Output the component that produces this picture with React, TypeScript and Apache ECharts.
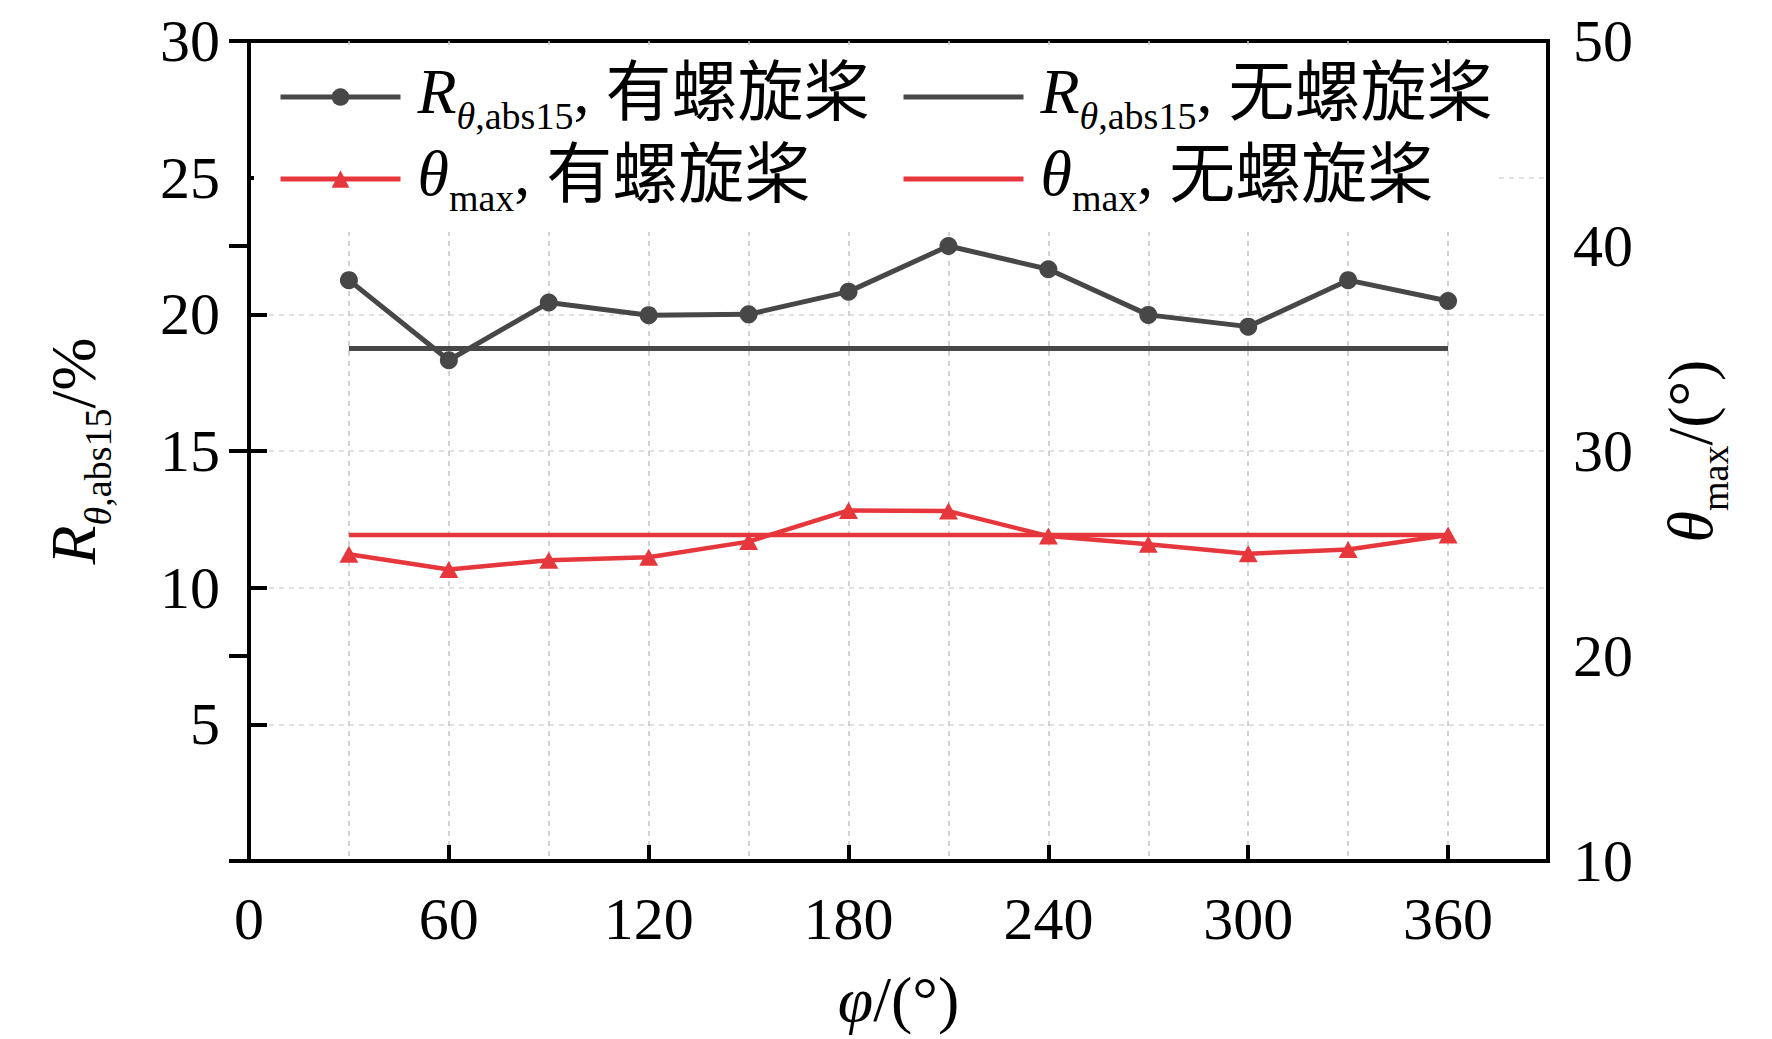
import React, { useEffect, useRef } from 'react';
import * as echarts from 'echarts';

// ---- data ----
const phi = [30, 60, 90, 120, 150, 180, 210, 240, 270, 300, 330, 360];
const rWithProp = [21.25, 18.32, 20.43, 19.97, 20.0, 20.83, 22.5, 21.65, 19.98, 19.55, 21.25, 20.49];
const rNoProp = [18.75, 18.75, 18.75, 18.75, 18.75, 18.75, 18.75, 18.75, 18.75, 18.75, 18.75, 18.75];
const thetaWithProp = [24.96, 24.22, 24.67, 24.82, 25.58, 27.1, 27.07, 25.85, 25.45, 24.99, 25.2, 25.9];
const thetaNoProp = [25.9, 25.9, 25.9, 25.9, 25.9, 25.9, 25.9, 25.9, 25.9, 25.9, 25.9, 25.9];

const seriesNames = ['R_with', 'R_without', 'T_with', 'T_without'];
const legendLabels: Record<string, string> = {
  R_with: '{rl|R}{si|θ}{s|,abs15}{n|, }{cn|有螺旋桨}',
  R_without: '{rl|R}{si|θ}{s|,abs15}{n|, }{cn|无螺旋桨}',
  T_with: '{rl|θ}{s|max}{n|, }{cn|有螺旋桨}',
  T_without: '{rl|θ}{s|max}{n|, }{cn|无螺旋桨}',
};
const xName = '{ri|φ}{n|/(°)}';
const yLeftName = '{ri|R}{si|θ}{s|,abs15}{n|/%}';
const yRightName = '{ri|θ}{s|max}{n|/(°)}';

const FONT = "'Liberation Serif', 'Times New Roman', 'Noto Sans CJK SC', serif";
const GRAY = '#474747';
const RED = '#e6373d';

const rich: any = {
  ri: { fontFamily: FONT, fontSize: 64, fontStyle: 'italic', lineHeight: 76, verticalAlign: 'top', color: '#000' },
  rl: { fontFamily: FONT, fontSize: 64, fontStyle: 'italic', lineHeight: 76, verticalAlign: 'top', color: '#000', padding: [0, 0, 0, 12] },
  si: { fontFamily: FONT, fontSize: 38, fontStyle: 'italic', lineHeight: 40, verticalAlign: 'bottom', color: '#000' },
  s: { fontFamily: FONT, fontSize: 38, lineHeight: 40, verticalAlign: 'bottom', color: '#000' },
  n: { fontFamily: FONT, fontSize: 64, lineHeight: 76, verticalAlign: 'top', color: '#000' },
  cn: { fontFamily: FONT, fontSize: 66, lineHeight: 76, verticalAlign: 'top', color: '#000' },
};

const pairs = (ys: number[]) => phi.map((x, i) => [x, ys[i]]);

const legendBase = {
  orient: 'vertical',
  top: 59,
  padding: 0,
  itemWidth: 120,
  itemHeight: 22,
  itemGap: 6,
  selectedMode: false,
  lineStyle: { width: 5 },
  formatter: (name: string) => legendLabels[name],
  textStyle: { fontFamily: FONT, fontSize: 64, color: '#000', rich },
};

export default function App() {
  const ref = useRef<HTMLDivElement>(null);
  useEffect(() => {
    if (!ref.current) return;
    const chart = echarts.init(ref.current, undefined, { renderer: 'svg' });
    const labelStyle = { fontFamily: FONT, fontSize: 60, color: '#000' };
    const option: any = {
      animation: false,
      backgroundColor: '#fff',
      grid: { left: 249, right: 224, top: 41, bottom: 178, show: true, borderColor: '#000', borderWidth: 4 },
      graphic: {
        elements: [
          { type: 'rect', z: 1, silent: true, shape: { x: 254, y: 45, width: 1243, height: 187 }, style: { fill: '#fff' } },
        ],
      },
      legend: [
        { ...legendBase, left: 278, data: [{ name: seriesNames[0] }, { name: seriesNames[2] }] },
        {
          ...legendBase,
          left: 901,
          data: [
            { name: seriesNames[1], itemStyle: { opacity: 0 } },
            { name: seriesNames[3], itemStyle: { opacity: 0 } },
          ],
        },
      ],
      xAxis: [
        {
          type: 'value', min: 0, max: 390, interval: 30, position: 'bottom',
          axisLine: { show: false }, axisTick: { show: false }, axisLabel: { show: false },
          splitLine: { show: true, showMinLine: false, showMaxLine: false, lineStyle: { color: '#c4c4c4', width: 1.5, type: [5, 5] } },
        },
        {
          type: 'value', min: 0, max: 390, interval: 60, position: 'bottom',
          axisLine: { show: true, lineStyle: { color: '#000', width: 4 } },
          axisTick: { show: true, inside: true, length: 16, lineStyle: { color: '#000', width: 4 } },
          axisLabel: { ...labelStyle, margin: 28, showMaxLabel: false },
          splitLine: { show: false },
          name: xName, nameLocation: 'middle', nameGap: 106,
          nameTextStyle: { fontFamily: FONT, fontSize: 64, color: '#000', rich },
        },
      ],
      yAxis: [
        {
          type: 'value', min: 0, max: 30, interval: 5, position: 'left',
          axisLine: { show: true, lineStyle: { color: '#000', width: 4 } },
          axisTick: { show: true, inside: true, length: 18, lineStyle: { color: '#000', width: 4 } },
          axisLabel: { ...labelStyle, margin: 29, showMinLabel: false },
          splitLine: { show: true, showMinLine: false, showMaxLine: false, lineStyle: { color: '#d8d8d8', width: 1.5, type: [5, 5] } },
          name: yLeftName, nameLocation: 'middle', nameGap: 132, nameRotate: 90,
          nameTextStyle: { fontFamily: FONT, fontSize: 64, color: '#000', rich },
        },
        {
          type: 'value', min: 10, max: 50, interval: 10, position: 'right',
          axisLine: { show: true, lineStyle: { color: '#000', width: 4 } },
          axisTick: { show: true, inside: true, length: 20, lineStyle: { color: '#000', width: 4 } },
          axisLabel: { ...labelStyle, margin: 25 },
          splitLine: { show: false },
          name: yRightName, nameLocation: 'middle', nameGap: 110, nameRotate: 90,
          nameTextStyle: { fontFamily: FONT, fontSize: 64, color: '#000', rich },
        },
      ],
      series: [
        {
          name: seriesNames[0], type: 'line', xAxisIndex: 0, yAxisIndex: 0, z: 4,
          data: pairs(rWithProp), symbol: 'circle', symbolSize: 18,
          lineStyle: { color: GRAY, width: 5 }, itemStyle: { color: GRAY },
        },
        {
          name: seriesNames[1], type: 'line', xAxisIndex: 0, yAxisIndex: 0, z: 3,
          data: pairs(rNoProp), symbol: 'none',
          lineStyle: { color: GRAY, width: 5 }, itemStyle: { color: GRAY },
        },
        {
          name: seriesNames[2], type: 'line', xAxisIndex: 0, yAxisIndex: 1, z: 4,
          data: pairs(thetaWithProp), symbol: 'triangle', symbolSize: [19, 17],
          lineStyle: { color: RED, width: 4.5 }, itemStyle: { color: RED },
        },
        {
          name: seriesNames[3], type: 'line', xAxisIndex: 0, yAxisIndex: 1, z: 3,
          data: pairs(thetaNoProp), symbol: 'none',
          lineStyle: { color: RED, width: 4.5 }, itemStyle: { color: RED },
        },
      ],
    };
    chart.setOption(option);
    return () => chart.dispose();
  }, []);
  return (
    <div
      ref={ref}
      style={{ position: 'fixed', left: 0, top: 0, width: 1772, height: 1039, background: '#fff' }}
    />
  );
}
